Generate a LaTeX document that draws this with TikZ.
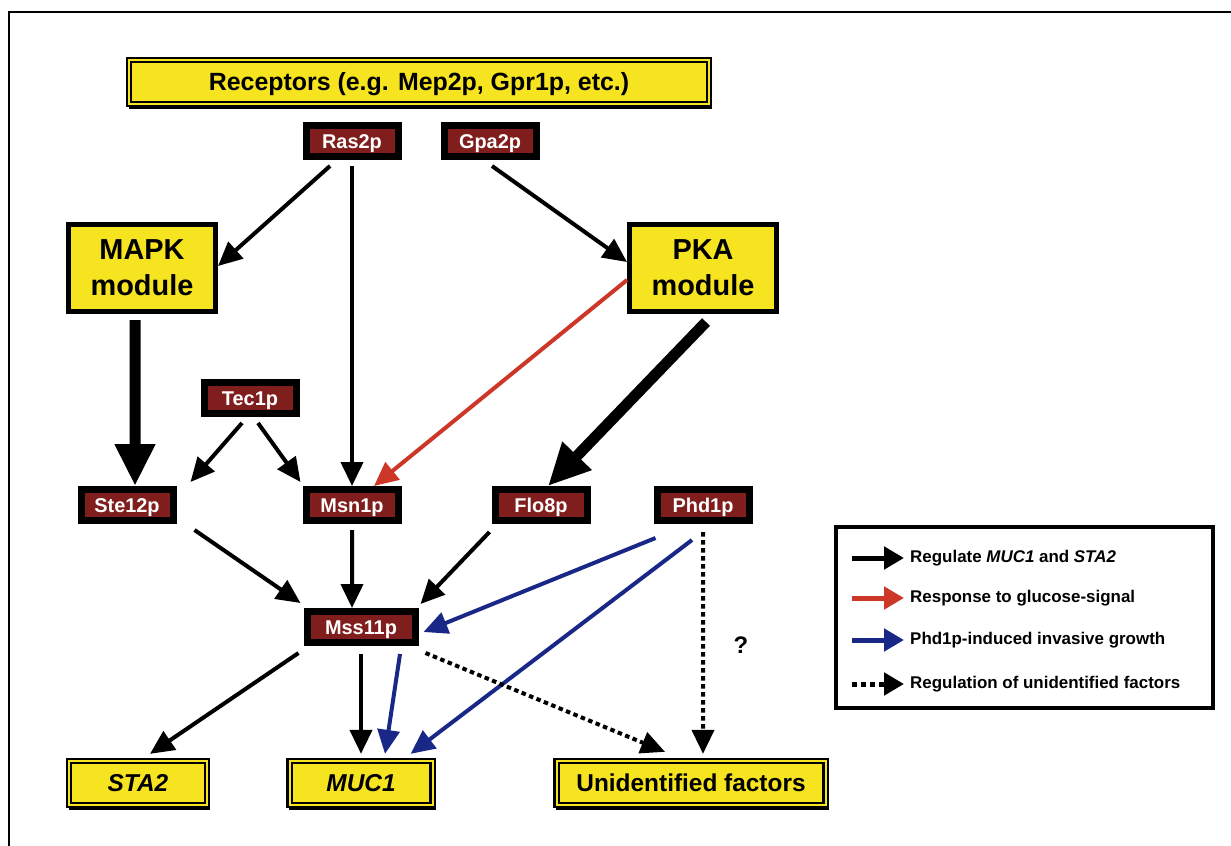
\documentclass[tikz,border=0pt]{standalone}
\usepackage{fontspec}
\setmainfont{Liberation Sans}
\usetikzlibrary{arrows.meta,backgrounds}
\definecolor{boxyellow}{RGB}{247,228,32}
\definecolor{protred}{RGB}{128,30,30}
\definecolor{sigred}{RGB}{205,55,40}
\definecolor{phdblue}{RGB}{25,40,135}
\tikzset{
  protein/.style={draw=black, line width=7bp, fill=protred, text=white, inner sep=0pt,
    text height=14.5bp, text depth=0bp,
    minimum width=92bp, minimum height=31bp, font=\fontsize{20}{24}\selectfont\bfseries},
  module/.style={draw=black, line width=5bp, fill=boxyellow, inner sep=0pt, align=center,
    minimum width=147bp, minimum height=87bp, font=\fontsize{29}{36}\selectfont\bfseries},
  target/.style={draw=black, line width=2.3bp, double=boxyellow, double distance=2bp,
    fill=boxyellow, inner sep=0pt, minimum height=44bp,
    text height=17.5bp, text depth=0bp,
    font=\fontsize{24.5}{28}\selectfont\bfseries},
  boxshadow/.style={fill=black},
  legendbox/.style={draw=black, line width=4bp, fill=white, minimum width=377bp, minimum height=181bp},
  legtext/.style={anchor=west, inner sep=0pt, font=\fontsize{17}{20}\selectfont\bfseries},
  arr/.style={-{Triangle[length=24bp,width=22bp]}, line width=4bp, draw=black},
  bigarr/.style={-{Triangle[length=42bp,width=38bp]}, line width=11bp, draw=black},
  redarr/.style={arr, draw=sigred, -{Triangle[length=24bp,width=22bp,fill=sigred]}},
  bluearr/.style={arr, draw=phdblue, -{Triangle[length=24bp,width=22bp,fill=phdblue]}},
  dotarr/.style={arr, dash pattern=on 4.5bp off 3.5bp},
  legarr/.style={-{Triangle[length=20bp,width=22bp]}, line width=5bp},
}
\begin{document}
\begin{tikzpicture}[x=1bp,y=-1bp]
\useasboundingbox (0,0) rectangle (1231,846);
% outer frame (left and top edges)
\draw[line width=2bp] (9,846) -- (9,12) -- (1231,12);

% receptors and signalling proteins
\node[target, minimum width=580bp, font=\fontsize{25}{28}\selectfont\bfseries] (rec) at (419,82) {Receptors (e.g. Mep2p, Gpr1p, etc.)};
\node[protein] (ras) at (352,141) {Ras2p};
\node[protein] (gpa) at (490,141) {Gpa2p};

% kinase modules
\node[module] (mapk) at (142,268) {MAPK\\module};
\node[module] (pka) at (703,268) {PKA\\module};

% transcription factors
\node[protein] (tec) at (250,398) {Tec1p};
\node[protein] (ste) at (127,505) {Ste12p};
\node[protein] (msn) at (352,505) {Msn1p};
\node[protein] (flo) at (541,505) {Flo8p};
\node[protein] (phd) at (703,505) {Phd1p};
\node[protein, minimum width=108bp] (mss) at (361,627) {Mss11p};

% target genes
\node[target, minimum width=138bp] (sta) at (138,783) {\itshape STA2};
\node[target, minimum width=143bp] (muc) at (361,783) {\itshape MUC1};
\node[target, minimum width=269bp] (unk) at (691,783) {Unidentified factors};

% dark edge beneath the yellow boxes
\begin{scope}[on background layer]
  \fill[white] (0,0) rectangle (1231,846);
  \foreach \b in {rec,sta,muc,unk}
    \fill[boxshadow] ([xshift=1bp,yshift=-4bp]\b.south west) rectangle ([xshift=2bp,yshift=-1bp]\b.north east);
\end{scope}

% question mark beside the dotted branch
\node[font=\fontsize{24}{28}\selectfont\bfseries] (qm) at (741,645) {?};

% connectors
\draw[arr] ([xshift=-22bp,yshift=-6bp]ras.south) -- ([yshift=2bp]mapk.east);
\draw[arr] ([yshift=-6bp]ras.south) -- (msn.north);
\draw[arr] ([xshift=2bp,yshift=-6bp]gpa.south) -- ([yshift=6bp]pka.west);
\draw[bigarr] ([xshift=-7bp,yshift=-6bp]mapk.south) -- ([xshift=8bp]ste.north);
\draw[bigarr] ([xshift=3bp,yshift=-8bp]pka.south) -- ([xshift=7bp]flo.north);
\draw[redarr] ([yshift=-12bp]pka.west) -- ([xshift=22bp]msn.north);
\draw[arr] ([xshift=-8bp,yshift=-6bp]tec.south) -- ([xshift=14bp,yshift=4bp]ste.north east);
\draw[arr] ([xshift=8bp,yshift=-6bp]tec.south) -- ([xshift=-2bp,yshift=4bp]msn.north west);
\draw[arr] ([xshift=18bp,yshift=-6bp]ste.south east) -- ([xshift=-3bp,yshift=5bp]mss.north west);
\draw[arr] ([yshift=-6bp]msn.south) -- ([xshift=-9bp]mss.north);
\draw[arr] ([xshift=-2bp,yshift=-8bp]flo.south west) -- ([xshift=2bp,yshift=4bp]mss.north east);
\draw[bluearr] ([xshift=2bp,yshift=-14bp]phd.south west) -- ([xshift=5bp,yshift=-5bp]mss.east);
\draw[bluearr] ([xshift=-11bp,yshift=-16bp]phd.south) -- ([xshift=-23bp,yshift=6bp]muc.north east);
\draw[dotarr] ([yshift=-8bp]phd.south) -- ([xshift=12bp,yshift=6bp]unk.north);
\draw[arr] ([xshift=-5bp,yshift=-7bp]mss.south west) -- ([xshift=12bp,yshift=6bp]sta.north);
\draw[arr] ([yshift=-8bp]mss.south) -- ([yshift=6bp]muc.north);
\draw[bluearr] ([xshift=39bp,yshift=-8bp]mss.south) -- ([xshift=24bp,yshift=6bp]muc.north);
\draw[dotarr] ([xshift=7bp,yshift=-7bp]mss.south east) -- ([xshift=-26bp,yshift=8bp]unk.north);

% legend
\node[legendbox] (leg) at (1024.5,617.5) {};
\coordinate (la1) at (852,558); \coordinate (lb1) at (904,558);
\coordinate (la2) at (852,598); \coordinate (lb2) at (904,598);
\coordinate (la3) at (852,640); \coordinate (lb3) at (904,640);
\coordinate (la4) at (852,684); \coordinate (lb4) at (904,684);
\draw[legarr] (la1) -- (lb1);
\draw[legarr, draw=sigred, -{Triangle[length=20bp,width=22bp,fill=sigred]}] (la2) -- (lb2);
\draw[legarr, draw=phdblue, -{Triangle[length=20bp,width=22bp,fill=phdblue]}] (la3) -- (lb3);
\draw[legarr, dash pattern=on 5bp off 4bp] (la4) -- (lb4);
\node[legtext] (lt1) at (910,558) {Regulate \textit{MUC1} and \textit{STA2}};
\node[legtext] (lt2) at (910,598) {Response to glucose-signal};
\node[legtext] (lt3) at (910,640) {Phd1p-induced invasive growth};
\node[legtext] (lt4) at (910,684) {Regulation of unidentified factors};
\end{tikzpicture}
\end{document}
